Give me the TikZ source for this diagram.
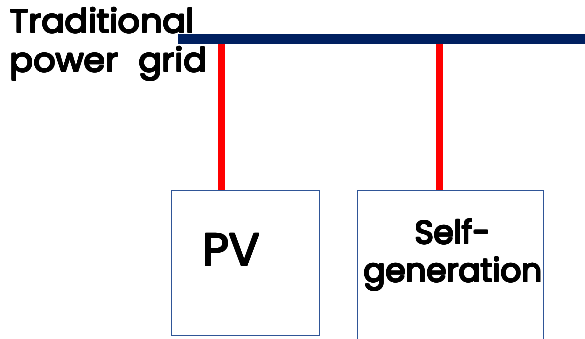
\documentclass[tikz,border=0pt]{standalone}
\usepackage{fontspec}
\usepackage[copies]{contour}
\contourlength{0.5pt}
\contournumber{16}
\setmainfont{Poppins}
\newfontfamily\rfont{Poppins}[FakeStretch=1.05]
\newfontfamily\rfontn{Poppins}
\newcommand{\heavytext}[1]{\contour{black}{#1}}
\definecolor{gridnavy}{HTML}{002060}
\definecolor{boxblue}{HTML}{2F5597}
\definecolor{feedred}{HTML}{FF0000}
\tikzset{
  gridbar/.style={draw=gridnavy, line width=10pt},
  feeder/.style={draw=feedred, line width=7pt},
  unitbox/.style={draw=boxblue, line width=0.8pt, fill=white},
  lbl/.style={font=\rfont\fontsize{33}{39}\selectfont, text=black, inner sep=0pt, anchor=base west},
}
\begin{document}
\begin{tikzpicture}[x=1pt,y=-1pt]
\useasboundingbox (0,0) rectangle (585,339);
\clip (0,0) rectangle (585,339);
% labels
\node[lbl] (gridlbla) at (10,33) {\heavytext{Traditional}};
\node[lbl] (gridlblb) at (10,72) {\heavytext{power\,\, grid}};
% grid bar
\coordinate (gL) at (178,39);
\coordinate (gR) at (585,39);
\draw[gridbar] (gL) -- (gR);
\coordinate (t1) at (221.5,44);
\coordinate (t2) at (439,44);
% boxes
\node[unitbox, minimum width=148pt, minimum height=145pt, anchor=north west, inner sep=0pt] (pv) at (171,190) {};
\node[font=\rfontn\fontsize{46}{46}\selectfont, inner sep=0pt, anchor=base] (pvt) at (231.5,266) {\heavytext{PV}};
\node[unitbox, minimum width=186pt, minimum height=170pt, anchor=north west, inner sep=0pt] (sg) at (357,190) {};
\node[font=\rfontn\fontsize{32.5}{38}\selectfont, inner sep=0pt, anchor=base] (sgta) at (453,244) {\heavytext{Self-}};
\node[font=\rfontn\fontsize{32.5}{38}\selectfont, inner sep=0pt, anchor=base] (sgtb) at (453,282) {\heavytext{generation}};
% feeders
\draw[feeder] (t1) -- (t1 |- pv.north);
\draw[feeder] (t2) -- (t2 |- sg.north);
\end{tikzpicture}
\end{document}
